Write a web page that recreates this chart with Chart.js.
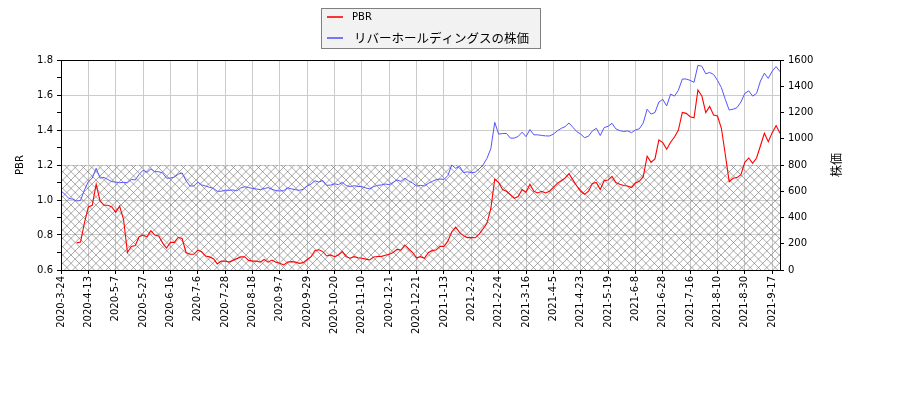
<!DOCTYPE html>
<html>
<head>
<meta charset="utf-8">
<script src="https://cdn.jsdelivr.net/npm/chart.js@4.4.1/dist/chart.umd.min.js"></script>
<style>
  body { margin: 0; background: #fff; }
  canvas { display: block; }
</style>
</head>
<body>
<canvas id="chart" width="900" height="400"></canvas>
<script>
// x軸ラベル (14営業日ごと = 7点ごと)
const tickLabels = [
  '2020-3-24', '2020-4-13', '2020-5-7', '2020-5-27', '2020-6-16', '2020-7-6', '2020-7-28',
  '2020-8-18', '2020-9-7', '2020-9-29', '2020-10-20', '2020-11-10', '2020-12-1', '2020-12-21',
  '2021-1-13', '2021-2-2', '2021-2-24', '2021-3-16', '2021-4-5', '2021-4-23', '2021-5-19',
  '2021-6-8', '2021-6-28', '2021-7-16', '2021-8-10', '2021-8-30', '2021-9-17'
];
const pointsPerLabel = 7;

// PBR (2営業日ごと)
const pbrValues = [
  null, null, null, null, 0.755, 0.76, 0.87, 0.96, 0.97, 1.09,
  0.995, 0.97, 0.97, 0.96, 0.93, 0.965, 0.89, 0.70, 0.735, 0.74,
  0.79, 0.80, 0.79, 0.825, 0.80, 0.795, 0.755, 0.725, 0.758, 0.758,
  0.787, 0.78, 0.70, 0.69, 0.69, 0.714, 0.705, 0.68, 0.675, 0.665,
  0.635, 0.651, 0.651, 0.645, 0.655, 0.665, 0.675, 0.676,
  0.655, 0.651, 0.651, 0.645, 0.66, 0.645, 0.657, 0.645, 0.638, 0.629,
  0.646, 0.648, 0.645, 0.638, 0.642, 0.66, 0.676, 0.712, 0.716, 0.705,
  0.68, 0.686, 0.676, 0.686, 0.705, 0.676, 0.667, 0.676, 0.67, 0.667,
  0.662, 0.657, 0.674, 0.677, 0.678, 0.684, 0.69, 0.70, 0.718, 0.714,
  0.743, 0.72, 0.70, 0.67, 0.676, 0.667, 0.699,
  0.712, 0.714, 0.735, 0.735, 0.765, 0.819, 0.845, 0.815, 0.795, 0.785,
  0.786, 0.784, 0.805, 0.835, 0.867, 0.95, 1.12, 1.10, 1.06, 1.05,
  1.03, 1.01, 1.02, 1.06, 1.045, 1.09, 1.05, 1.04, 1.05, 1.04,
  1.05, 1.072, 1.095, 1.11, 1.125, 1.15, 1.115, 1.08, 1.05, 1.032,
  1.05, 1.095, 1.10, 1.06, 1.11, 1.114, 1.135,
  1.10, 1.09, 1.083, 1.08, 1.071, 1.097, 1.107, 1.133, 1.25, 1.215,
  1.235, 1.343, 1.328, 1.29, 1.33, 1.36, 1.40, 1.50, 1.495, 1.476,
  1.47, 1.629, 1.595, 1.50, 1.535, 1.486, 1.48, 1.41, 1.26, 1.105,
  1.124, 1.128, 1.145, 1.215, 1.24, 1.21, 1.24, 1.31, 1.381, 1.333,
  1.385, 1.425, 1.381
];

// 株価 (2営業日ごと)
const priceValues = [
  602, 577, 545, 540, 526, 530, 610, 673, 700, 775,
  700, 705, 690, 673, 670, 665, 668, 665, 690, 686,
  729, 760, 744, 770, 749, 749, 740, 700, 700, 708,
  730, 740, 680, 640, 640, 670, 648, 640, 630, 622,
  600, 600, 608, 607, 610, 603, 625, 635,
  628, 622, 617, 613, 620, 628, 615, 605, 602, 605,
  626, 618, 612, 607, 615, 640, 655, 680, 670, 682,
  645, 647, 657, 650, 668, 643, 636, 642, 637, 635,
  625, 618, 635, 645, 648, 655, 650, 668, 686, 675,
  699, 678, 662, 640, 645, 640, 660,
  675, 688, 693, 690, 720, 800, 775, 790, 742, 748,
  742, 745, 770, 800, 850, 925, 1125, 1035, 1040, 1040,
  1005, 1005, 1018, 1050, 1016, 1070, 1030, 1030, 1025, 1022,
  1021, 1035, 1060, 1079, 1092, 1120, 1087, 1054, 1035, 1008,
  1020, 1060, 1080, 1025, 1085, 1095, 1118,
  1075, 1062, 1055, 1060, 1046, 1067, 1076, 1120, 1225, 1188,
  1200, 1280, 1300, 1250, 1340, 1325, 1370, 1455, 1455, 1445,
  1430, 1560, 1552, 1495, 1505, 1490, 1445, 1390, 1300, 1219,
  1225, 1237, 1280, 1346, 1365, 1325, 1345, 1440, 1499, 1460,
  1515, 1550, 1511
];

const pbrTicks = [0.6, 0.7, 0.8, 0.9, 1.0, 1.1, 1.2, 1.3, 1.4, 1.5, 1.6, 1.7, 1.8];
const priceTicks = [0, 100, 200, 300, 400, 500, 600, 700, 800, 900, 1000, 1100, 1200, 1300, 1400, 1500, 1600];
const hatchRange = [0.6, 1.2];

const seriesNames = ['PBR', 'リバーホールディングスの株価'];
const axisTitles = ['PBR', '株価'];

const categories = priceValues.map((_, i) => i);
const tickFont = { family: 'DejaVu Sans', size: 10 };
const gridGray = '#cccccc';

// ハッチング、枠、軸タイトル、凡例
const decorPlugin = {
  id: 'decor',
  beforeDatasetsDraw(chart) {
    const { ctx, chartArea } = chart;
    const y = chart.scales.y;
    const top = y.getPixelForValue(hatchRange[1]);
    const bottom = y.getPixelForValue(hatchRange[0]);
    const h = bottom - top;
    const step = 25 / 3;
    ctx.save();
    ctx.beginPath();
    ctx.rect(chartArea.left, top, chartArea.right - chartArea.left, h);
    ctx.clip();
    ctx.strokeStyle = 'rgba(110,110,110,0.75)';
    ctx.lineWidth = 0.8;
    ctx.beginPath();
    for (let x = chartArea.left - h - step; x < chartArea.right + step; x += step) {
      ctx.moveTo(x, bottom);
      ctx.lineTo(x + h, top);
      ctx.moveTo(x, top);
      ctx.lineTo(x + h, bottom);
    }
    ctx.stroke();
    ctx.restore();
  },
  afterDraw(chart) {
    const { ctx, chartArea } = chart;
    ctx.save();
    ctx.strokeStyle = '#000';
    ctx.lineWidth = 1;
    ctx.strokeRect(Math.round(chartArea.left) + 0.5, Math.round(chartArea.top) + 0.5,
      Math.round(chartArea.right - chartArea.left), Math.round(chartArea.bottom - chartArea.top));

    const midY = (chartArea.top + chartArea.bottom) / 2;
    ctx.fillStyle = '#000';
    ctx.textAlign = 'center';
    ctx.textBaseline = 'middle';
    ctx.save();
    ctx.translate(20, midY);
    ctx.rotate(-Math.PI / 2);
    ctx.font = '10px "DejaVu Sans"';
    ctx.fillText(axisTitles[0], 0, 0);
    ctx.restore();
    ctx.save();
    ctx.translate(836, midY);
    ctx.rotate(-Math.PI / 2);
    ctx.font = '12px "Noto Sans CJK JP"';
    ctx.fillText(axisTitles[1], 0, 0);
    ctx.restore();

    // 凡例
    const bx = 321.5, by = 8.5, bw = 219, bh = 40;
    ctx.fillStyle = '#f2f2f2';
    ctx.fillRect(bx, by, bw, bh);
    ctx.strokeStyle = '#808080';
    ctx.strokeRect(bx, by, bw, bh);
    const ds = chart.data.datasets;
    const rows = [17, 38];
    ds.forEach((d, i) => {
      ctx.strokeStyle = d.borderColor;
      ctx.lineWidth = 1.6;
      ctx.beginPath();
      ctx.moveTo(327, rows[i]);
      ctx.lineTo(343, rows[i]);
      ctx.stroke();
      ctx.fillStyle = '#000';
      ctx.textAlign = 'left';
      ctx.font = i === 0 ? '10px "DejaVu Sans"' : '12.5px "Noto Sans CJK JP"';
      ctx.fillText(d.label, i === 0 ? 352 : 354, rows[i]);
    });
    ctx.restore();
  }
};

new Chart(document.getElementById('chart'), {
  type: 'line',
  data: {
    labels: categories,
    datasets: [
      {
        label: seriesNames[0],
        data: pbrValues,
        yAxisID: 'y',
        borderColor: '#ff0000',
        borderWidth: 1.1,
        pointRadius: 0,
        tension: 0
      },
      {
        label: seriesNames[1],
        data: priceValues,
        yAxisID: 'y2',
        borderColor: '#5555ff',
        borderWidth: 1,
        pointRadius: 0,
        tension: 0
      }
    ]
  },
  options: {
    responsive: false,
    animation: false,
    devicePixelRatio: 1,
    layout: { padding: { top: 60, left: 0, right: 0, bottom: 0 } },
    plugins: { legend: { display: false }, tooltip: { enabled: false } },
    scales: {
      x: {
        type: 'category',
        border: { color: '#000' },
        grid: {
          color: c => (c.index % pointsPerLabel === 0 ? gridGray : 'rgba(0,0,0,0)'),
          tickColor: c => (c.index % pointsPerLabel === 0 ? '#000' : 'rgba(0,0,0,0)'),
          tickLength: 4
        },
        ticks: {
          autoSkip: false,
          minRotation: 90,
          maxRotation: 90,
          padding: 2,
          color: '#000',
          font: tickFont,
          callback: (v, i) => (i % pointsPerLabel === 0 ? tickLabels[i / pointsPerLabel] : '')
        },
        afterFit: s => { s.height = 130; }
      },
      y: {
        position: 'left',
        min: pbrTicks[0],
        max: pbrTicks[pbrTicks.length - 1],
        border: { color: '#000' },
        grid: {
          color: c => (Math.round(c.tick.value * 10) % 2 === 0 ? gridGray : 'rgba(0,0,0,0)'),
          tickColor: '#000',
          tickLength: 4
        },
        ticks: {
          color: '#000',
          font: tickFont,
          padding: 4,
          callback: v => (Math.round(v * 10) % 2 === 0 ? v.toFixed(1) : '')
        },
        afterBuildTicks: s => { s.ticks = pbrTicks.map(v => ({ value: v })); },
        afterFit: s => { s.width = 61; }
      },
      y2: {
        position: 'right',
        min: priceTicks[0],
        max: priceTicks[priceTicks.length - 1],
        border: { color: '#000' },
        grid: { drawOnChartArea: false, tickColor: '#000', tickLength: 4 },
        ticks: {
          color: '#000',
          font: tickFont,
          padding: 4,
          callback: v => (v % 200 === 0 ? String(v) : '')
        },
        afterBuildTicks: s => { s.ticks = priceTicks.map(v => ({ value: v })); },
        afterFit: s => { s.width = 120; }
      }
    }
  },
  plugins: [decorPlugin]
});
</script>
</body>
</html>
